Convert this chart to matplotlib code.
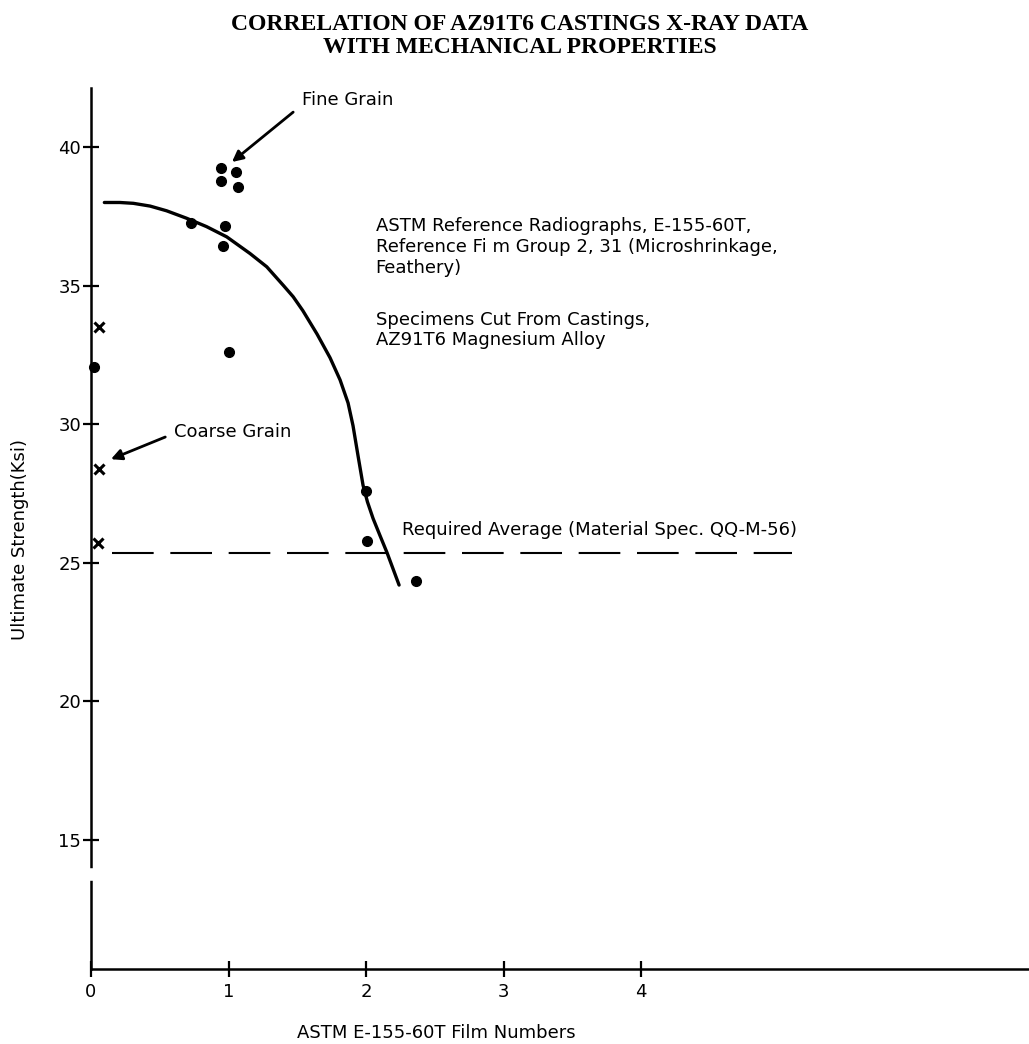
import matplotlib.pyplot as plt

# hand-drawn trend curve (film number, ksi)
curve_x = [0.097, 0.21, 0.308, 0.43, 0.55, 0.696, 0.84, 0.987, 1.156, 1.278, 1.40,
           1.47, 1.54, 1.644, 1.738, 1.811, 1.869, 1.905, 1.942, 1.978, 2.01,
           2.051, 2.10, 2.153, 2.24]
curve_y = [38.0, 38.0, 37.97, 37.87, 37.70, 37.43, 37.13, 36.76, 36.16, 35.68, 35.0,
           34.6, 34.1, 33.25, 32.4, 31.6, 30.77, 29.95, 28.85, 27.8, 27.2,
           26.6, 26.0, 25.36, 24.2]

# specimen points
dot_x = [0.945, 1.055, 0.945, 1.07, 0.73, 0.975, 0.96, 1.0, 0.02, 2.0, 2.01, 2.36]
dot_y = [39.24, 39.10, 38.77, 38.56, 37.26, 37.15, 36.43, 32.6, 32.06, 27.59, 25.79, 24.34]
cross_x = [0.06, 0.06, 0.05]
cross_y = [33.5, 28.38, 25.71]

required_avg = 25.35
x_ticks = [0, 1, 2, 3, 4]
y_ticks = [15, 20, 25, 30, 35, 40]

plt.rcParams['font.family'] = ['DejaVu Sans']

fig = plt.figure(figsize=(10.29, 10.44), dpi=100)
ax = fig.add_axes([91 / 1029, 1 - 969 / 1044, 1 - 91 / 1029, (969 - 88) / 1044])

ax.plot(curve_x, curve_y, color='black', lw=2.4, solid_capstyle='round',
        solid_joinstyle='round')
ax.plot(dot_x, dot_y, 'o', color='black', ms=7, clip_on=False)
ax.plot(cross_x, cross_y, 'x', color='black', ms=7, mew=2.2, clip_on=False)
ax.plot([0.15, 5.1], [required_avg, required_avg], color='black', lw=1.5,
        dashes=(20, 8))

ax.set_xlim(0, 6.82)
ax.set_ylim(10.35, 42.13)
ax.set_xticks(x_ticks)
ax.set_yticks(y_ticks)
ax.spines['top'].set_visible(False)
ax.spines['right'].set_visible(False)
for s in ['left', 'bottom']:
    ax.spines[s].set_linewidth(1.8)
ax.tick_params(direction='inout', length=12, width=1.6, labelsize=13)
ax.tick_params(axis='y', pad=1)
ax.tick_params(axis='x', pad=4)

# break in the y axis below 15
ax.plot([0, 0], [13.65, 13.88], color='white', lw=4, clip_on=False, zorder=5)

txt = dict(fontsize=13, color='black')
ax.text(2.07, 36.39, 'ASTM Reference Radiographs, E-155-60T,\n'
        'Reference Fi m Group 2, 31 (Microshrinkage,\nFeathery)',
        va='center', linespacing=1.2, **txt)
ax.text(2.07, 33.4, 'Specimens Cut From Castings,\nAZ91T6 Magnesium Alloy',
        va='center', linespacing=1.2, **txt)
ax.text(2.26, 26.18, 'Required Average (Material Spec. QQ-M-56)', va='center', **txt)

arrow = dict(arrowstyle='-|>', color='black', lw=2, mutation_scale=16, shrinkA=0, shrinkB=0)
ax.annotate('', xy=(1.025, 39.46), xytext=(1.47, 41.26), arrowprops=arrow)
ax.text(1.535, 41.7, 'Fine Grain', va='center', **txt)
ax.annotate('', xy=(0.145, 28.74), xytext=(0.54, 29.54), arrowprops=arrow)
ax.text(0.60, 29.72, 'Coarse Grain', va='center', **txt)

fig.text(20 / 1029, 1 - 540 / 1044, 'Ultimate Strength(Ksi)', rotation=90,
         ha='center', va='center', fontsize=13)
fig.text(436 / 1029, 1 - 1033 / 1044, 'ASTM E-155-60T Film Numbers',
         ha='center', va='center', fontsize=13)
fig.text(520 / 1029, 1 - 36 / 1044,
         'CORRELATION OF AZ91T6 CASTINGS X-RAY DATA\nWITH MECHANICAL PROPERTIES',
         ha='center', va='center', fontsize=17, fontweight='bold',
         family='Liberation Serif', linespacing=1.15)

fig.savefig('out.png', dpi=100)
